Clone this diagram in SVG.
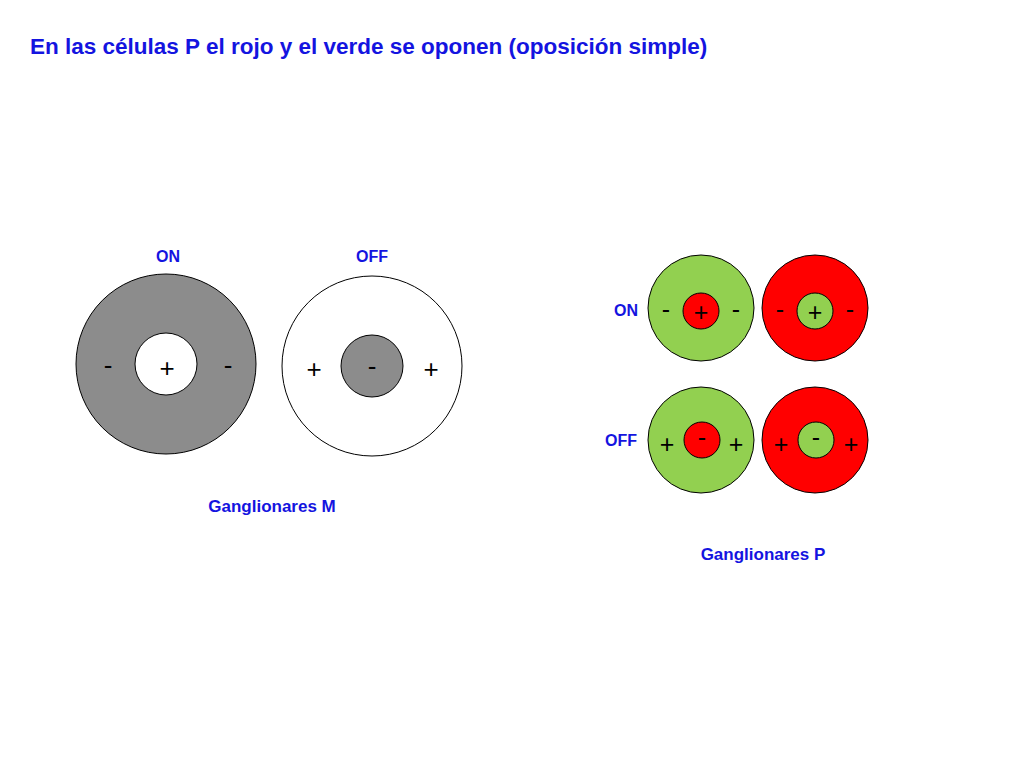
<svg xmlns="http://www.w3.org/2000/svg" width="1024" height="768" viewBox="0 0 1024 768">
<style>
.t{font-family:"Liberation Sans",Arial,sans-serif;font-weight:bold;fill:#1414e0}
.s{font-family:"Liberation Sans",Arial,sans-serif;fill:#000;text-anchor:middle}
circle{stroke:#000;stroke-width:1}
.g{fill:#92d050}.r{fill:#ff0000}
</style>
<rect width="1024" height="768" fill="#fff"/>
<text class="t" x="30" y="54" font-size="22.5">En las células P el rojo y el verde se oponen (oposición simple)</text>
<g id="m-on">
<text class="t" x="168" y="262" font-size="16" text-anchor="middle">ON</text>
<circle cx="166" cy="364" r="90" fill="#8c8c8c"/>
<circle cx="166" cy="364" r="31" fill="#fff"/>
<text class="s" x="108" y="374" font-size="26">-</text>
<text class="s" x="167" y="377" font-size="26">+</text>
<text class="s" x="228" y="374" font-size="26">-</text>
</g>
<g id="m-off">
<text class="t" x="372" y="262" font-size="16" text-anchor="middle">OFF</text>
<circle cx="372" cy="366" r="90" fill="#fff"/>
<circle cx="372" cy="366" r="31" fill="#8c8c8c"/>
<text class="s" x="314" y="378" font-size="26">+</text>
<text class="s" x="372" y="375" font-size="26">-</text>
<text class="s" x="431" y="378" font-size="26">+</text>
</g>
<text class="t" x="272" y="512" font-size="17" text-anchor="middle">Ganglionares M</text>
<text class="t" x="626" y="316" font-size="16" text-anchor="middle">ON</text>
<text class="t" x="621" y="446" font-size="16" text-anchor="middle">OFF</text>
<g id="p-on-g">
<circle class="g" cx="701" cy="308" r="53"/>
<circle class="r" cx="701" cy="311" r="18"/>
<text class="s" x="666" y="318" font-size="25">-</text>
<text class="s" x="701" y="321" font-size="25">+</text>
<text class="s" x="736" y="318" font-size="25">-</text>
</g>
<g id="p-on-r">
<circle class="r" cx="815" cy="308" r="53"/>
<circle class="g" cx="815" cy="311" r="18"/>
<text class="s" x="780" y="318" font-size="25">-</text>
<text class="s" x="815" y="321" font-size="25">+</text>
<text class="s" x="850" y="318" font-size="25">-</text>
</g>
<g id="p-off-g">
<circle class="g" cx="701" cy="440" r="53"/>
<circle class="r" cx="702" cy="440" r="18"/>
<text class="s" x="667" y="453" font-size="25">+</text>
<text class="s" x="702" y="446" font-size="25">-</text>
<text class="s" x="736" y="453" font-size="25">+</text>
</g>
<g id="p-off-r">
<circle class="r" cx="815" cy="440" r="53"/>
<circle class="g" cx="816" cy="440" r="18"/>
<text class="s" x="781" y="453" font-size="25">+</text>
<text class="s" x="816" y="446" font-size="25">-</text>
<text class="s" x="851" y="453" font-size="25">+</text>
</g>
<text class="t" x="763" y="560" font-size="17" text-anchor="middle">Ganglionares P</text>
<g id="connectors"/>
</svg>
